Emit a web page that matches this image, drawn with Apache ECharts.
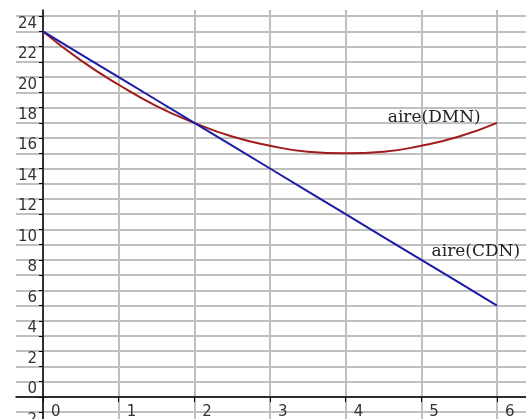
<!DOCTYPE html>
<html>
<head>
<meta charset="utf-8">
<script src="https://cdn.jsdelivr.net/npm/echarts@6/dist/echarts.min.js"></script>
<style>
  html, body { margin: 0; padding: 0; background: #fff; }
  #chart { width: 526px; height: 419px; }
</style>
</head>
<body>
<div id="chart"></div>
<script>
// valeurs
const xVals = [0, 0.5, 1, 1.5, 2, 2.5, 3, 3.5, 4, 4.5, 5, 5.5, 6];
const aireDMN = [23, 21.1, 19.5, 18.1, 17, 16.1, 15.5, 15.1, 15, 15.1, 15.5, 16.1, 17];
const aireCDN = [23, 21.5, 20, 18.5, 17, 15.5, 14, 12.5, 11, 9.5, 8, 6.5, 5];

const xTicks = [0, 1, 2, 3, 4, 5, 6];
const yTicks = [-2, -1, 0, 1, 2, 3, 4, 5, 6, 7, 8, 9, 10, 11, 12, 13, 14, 15, 16, 17, 18, 19, 20, 21, 22, 23, 24, 25];
const yLabels = [-2, 0, 2, 4, 6, 8, 10, 12, 14, 16, 18, 20, 22, 24];

const curveNames = ['aire(DMN)', 'aire(CDN)'];
const labelAt = [[5.17, 17.33], [5.72, 8.52]];

const pairs = (ys) => xVals.map((x, i) => [x, ys[i]]);

const chart = echarts.init(document.getElementById('chart'), null, { renderer: 'canvas' });

const gridLine = { show: true, lineStyle: { color: '#bfbfbf', width: 2 } };
const textLabel = (i) => ({
  symbol: 'circle',
  symbolSize: 1,
  itemStyle: { color: 'transparent' },
  label: {
    show: true,
    formatter: '{b}',
    fontFamily: 'DejaVu Serif',
    fontSize: 17,
    color: '#222'
  },
  data: [{ name: curveNames[i], coord: labelAt[i] }]
});

chart.setOption({
  animation: false,
  grid: { left: 16, right: 0, top: 10, bottom: 0, containLabel: false, outerBoundsMode: 'none' },
  xAxis: {
    type: 'value',
    min: -0.357,
    max: 6.383,
    position: 'bottom',
    offset: -22,
    axisLine: { onZero: false, lineStyle: { color: '#000', width: 1.5 } },
    axisTick: { customValues: xTicks, length: 5, lineStyle: { color: '#000' } },
    axisLabel: {
      customValues: xTicks,
      align: 'left',
      padding: [0, 0, 0, 8],
      margin: 8,
      fontFamily: 'DejaVu Sans',
      fontSize: 15,
      color: '#333'
    },
    splitLine: gridLine
  },
  yAxis: {
    type: 'value',
    min: -2.45,
    max: 24.41,
    position: 'left',
    offset: -27,
    axisLine: { onZero: false, lineStyle: { color: '#000', width: 1.5 } },
    axisTick: { customValues: yTicks, length: 4, lineStyle: { color: '#000' } },
    axisLabel: {
      customValues: yLabels,
      verticalAlign: 'top',
      margin: 6,
      fontFamily: 'DejaVu Sans',
      fontSize: 15,
      color: '#333'
    },
    splitLine: gridLine
  },
  series: [
    {
      name: curveNames[0],
      type: 'line',
      data: pairs(aireDMN),
      smooth: true,
      showSymbol: false,
      lineStyle: { color: '#a11c1c', width: 2 },
      markPoint: textLabel(0)
    },
    {
      name: curveNames[1],
      type: 'line',
      data: pairs(aireCDN),
      showSymbol: false,
      lineStyle: { color: '#1c1ca6', width: 2 },
      markPoint: textLabel(1)
    }
  ]
});
</script>
</body>
</html>
